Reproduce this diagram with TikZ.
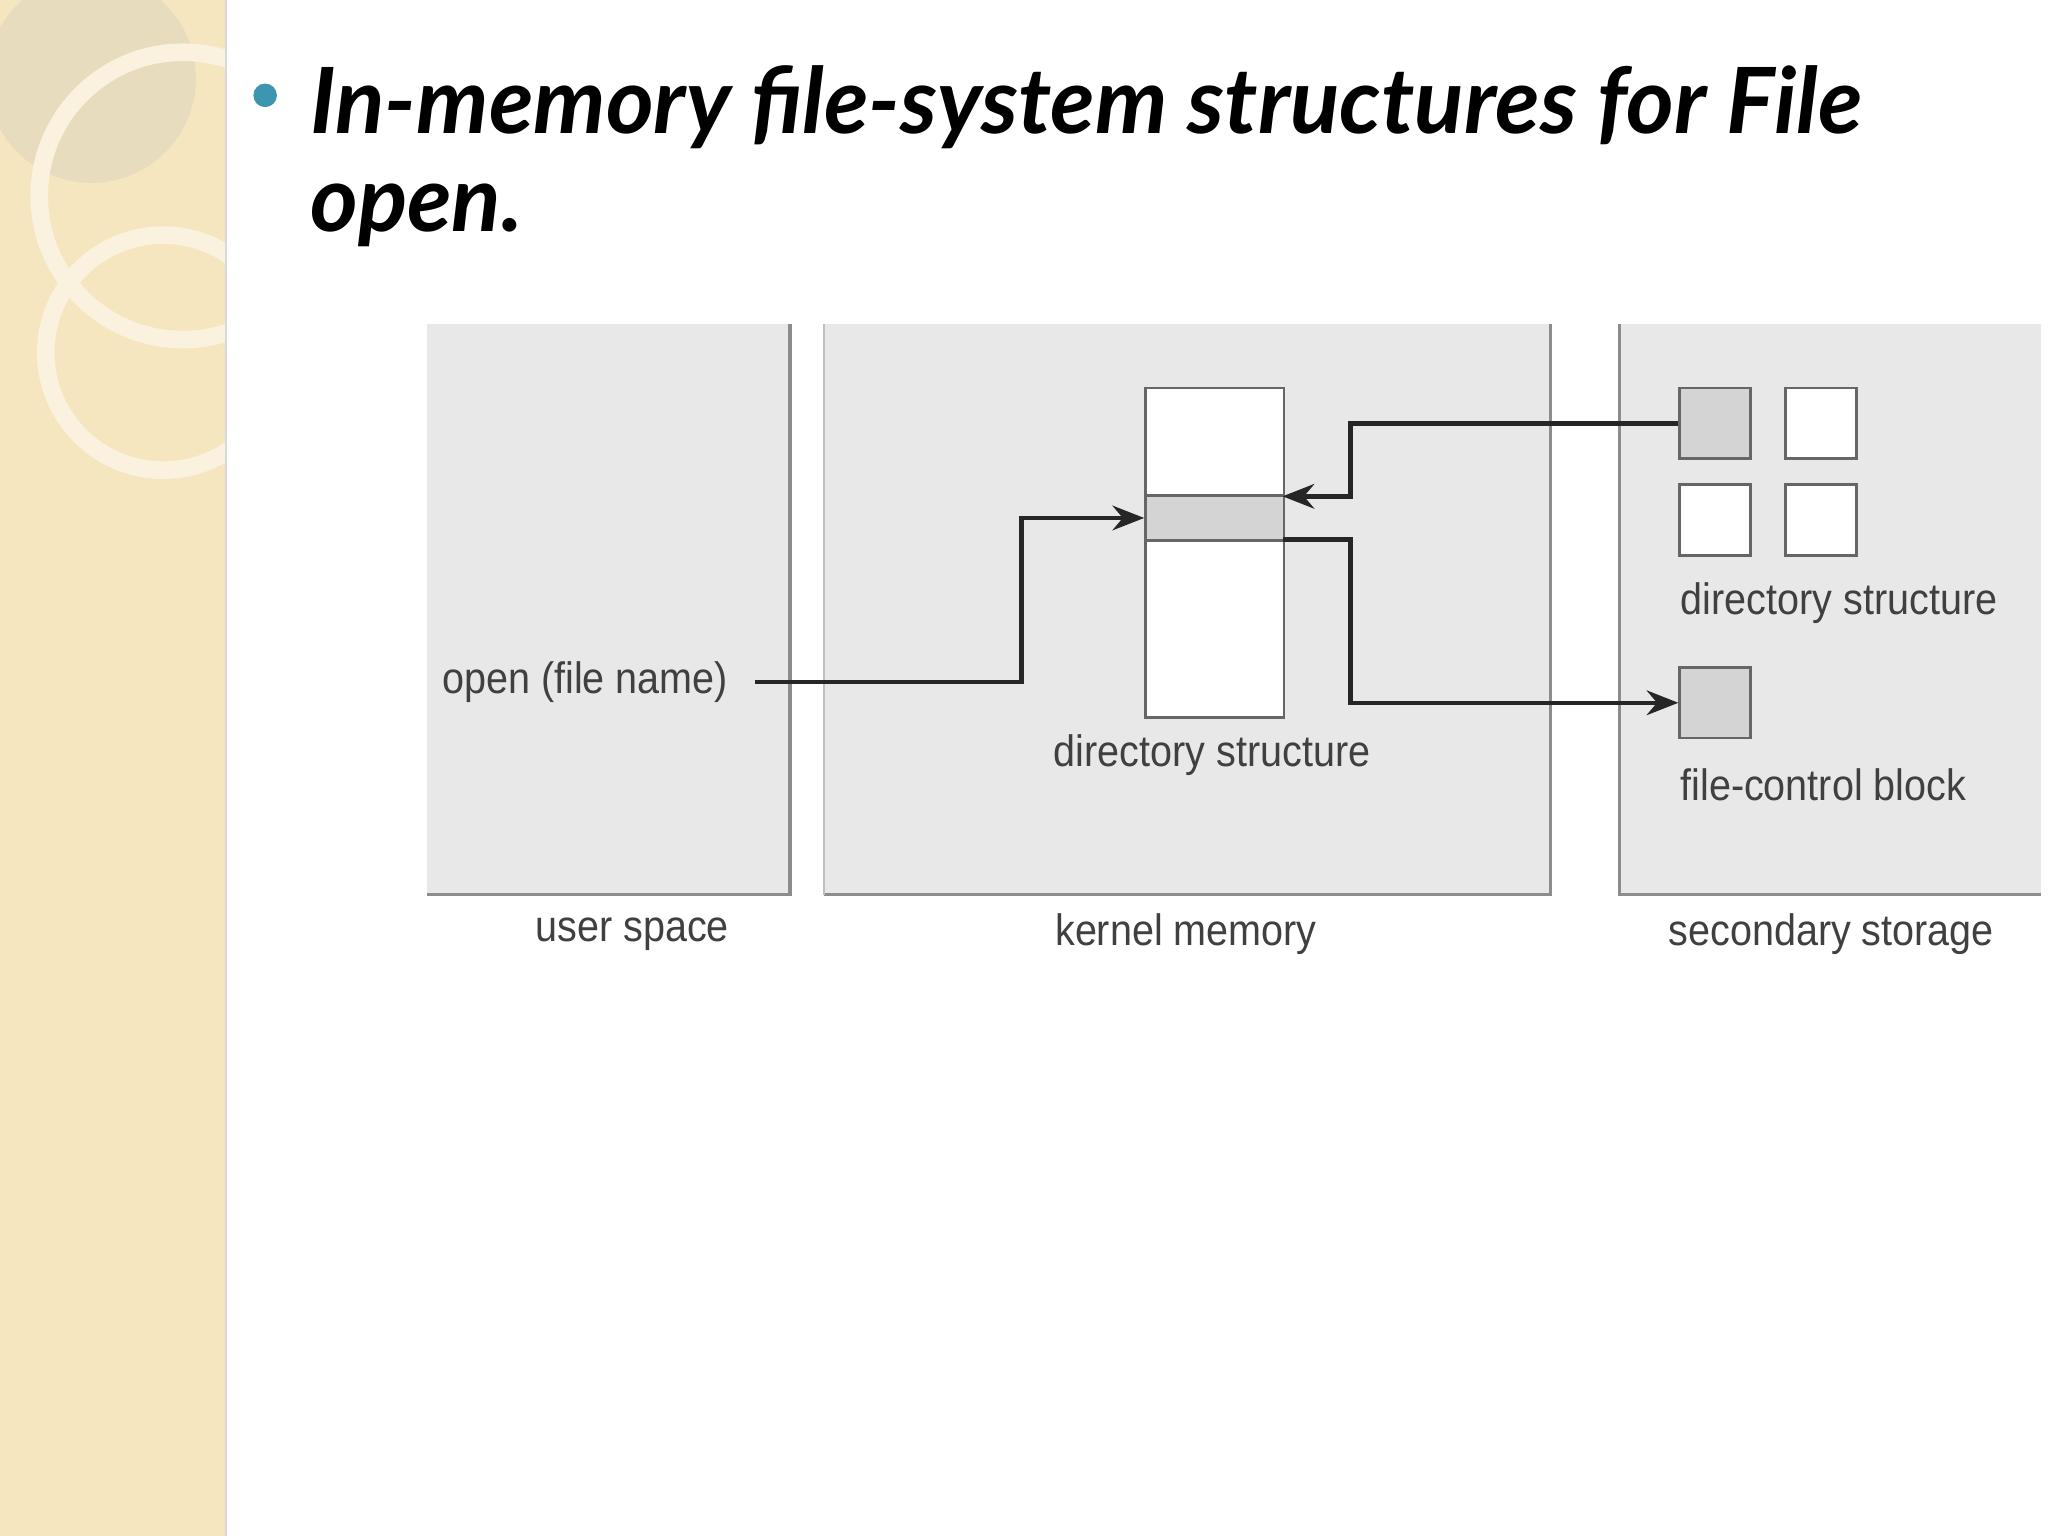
\documentclass[tikz,border=0pt]{standalone}
\usepackage{fontspec}
\setmainfont{Liberation Sans}
\newfontfamily\titlefont{Lato}
\usetikzlibrary{arrows.meta}
\definecolor{strip}{RGB}{245,230,192}
\definecolor{ring}{RGB}{250,242,222}
\definecolor{disc}{RGB}{232,220,190}
\definecolor{bul}{RGB}{60,150,175}
\begin{document}
\begin{tikzpicture}[x=0.013061cm,y=-0.013061cm,
  panel/.style={fill=black!9,draw=none},
  lbl/.style={font=\fontsize{12.5}{15}\selectfont,text=black!75,xscale=0.9},
  box/.style={draw=black!60,line width=0.8pt},
  conn/.style={draw=black!85,line width=1.3pt,-{Stealth[length=9pt,width=7pt]}}]
\useasboundingbox (0,0) rectangle (1568,1176);
\fill[white] (0,0) rectangle (1568,1176);
% decorative strip
\fill[strip] (0,0) rectangle (173,1176);
\begin{scope}
\clip (0,0) rectangle (173,1176);
\fill[disc] (70,60) circle (80);
\draw[ring,line width=5pt] (140,150) circle (110);
\draw[ring,line width=5pt] (125,270) circle (90);
\end{scope}
\draw[black!15] (173,0) -- (173,1176);
% title
\fill[bul] (203,73) circle (9);
\node[anchor=west,font=\titlefont\bfseries\itshape\fontsize{26}{30}\selectfont] (t1) at (228,82) {In-memory file-system structures for File};
\node[anchor=west,font=\titlefont\bfseries\itshape\fontsize{26}{30}\selectfont] (t2) at (228,165) {open.};
% panels
\fill[panel] (327,248) rectangle (605,685);
\fill[panel] (631,248) rectangle (1187,685);
\fill[panel] (1240,248) rectangle (1563,685);
\draw[black!45,line width=1pt] (605,248) -- (605,685) -- (327,685);
\draw[black!45,line width=1pt] (1187,248) -- (1187,685) -- (631,685);
\draw[black!45,line width=1pt] (1240,248) -- (1240,685) -- (1563,685);
\draw[black!25] (631,248) -- (631,685);
% labels
\node[lbl] (us) at (484,715) {user space};
\node[lbl] (km) at (908,715) {kernel memory};
\node[lbl] (ss) at (1402,715) {secondary storage};
% directory table
\node[box,fill=white,minimum width=106*0.013061cm,minimum height=252*0.013061cm,inner sep=0,anchor=north west] (dir) at (876,296) {};
\node[box,fill=black!17,minimum width=106*0.013061cm,minimum height=35*0.013061cm,inner sep=0,anchor=north west] (row) at (876,378) {};
\node[lbl] (dl) at (928,578) {directory structure};
% storage squares
\node[box,fill=black!17,minimum size=54*0.013061cm,inner sep=0,anchor=north west] (s1) at (1285,296) {};
\node[box,fill=white,minimum size=54*0.013061cm,inner sep=0,anchor=north west] (s2) at (1366,296) {};
\node[box,fill=white,minimum size=54*0.013061cm,inner sep=0,anchor=north west] (s3) at (1285,370) {};
\node[box,fill=white,minimum size=54*0.013061cm,inner sep=0,anchor=north west] (s4) at (1366,370) {};
\node[lbl] (dsl) at (1408,462) {directory structure};
\node[box,fill=black!17,minimum size=54*0.013061cm,inner sep=0,anchor=north west] (fcb) at (1285,510) {};
\node[lbl] (fcbl) at (1396,601) {file-control block};
\node[lbl,anchor=west] (open) at (330,522) {open (file name)};
% connectors
\coordinate (a0) at (578,522);
\coordinate (b0) at (982,380);
\coordinate (c0) at (982,413);
\draw[conn] (a0) -| (782,450) |- (row.west);
\draw[conn] (s1.west) -| (1034,380) -- (b0);
\draw[conn] (c0) -| (1034,480) |- (fcb.west);
\end{tikzpicture}
\end{document}
